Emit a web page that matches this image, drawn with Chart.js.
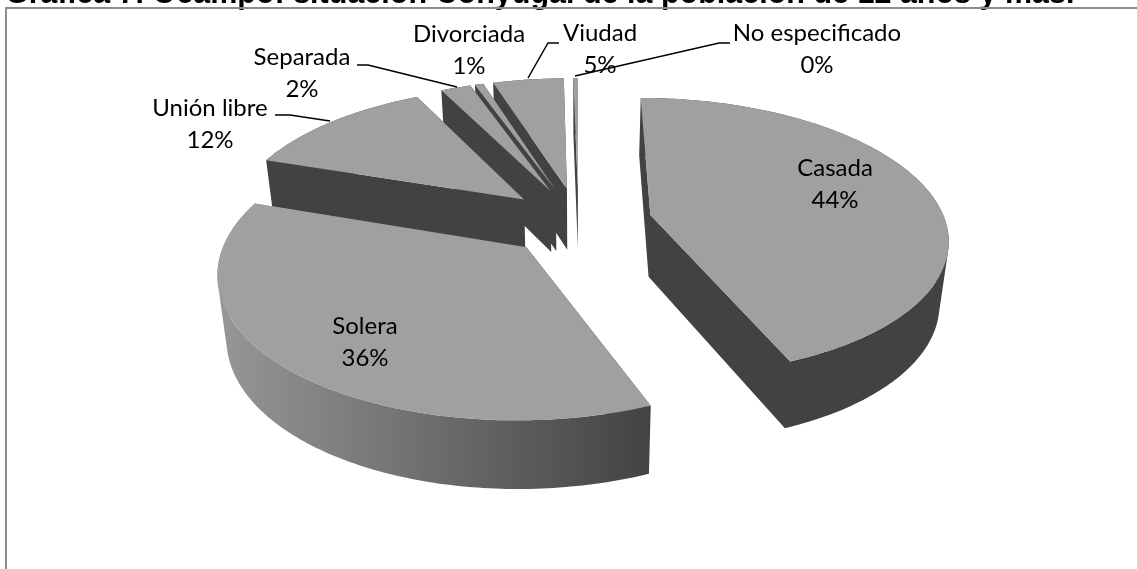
<!DOCTYPE html>
<html><head><meta charset="utf-8">
<script src="https://cdn.jsdelivr.net/npm/chart.js@4/dist/chart.umd.min.js"></script>
<style>html,body{margin:0;padding:0;background:#fff;overflow:hidden}#c{display:block}</style>
</head><body><canvas id="c" width="1137" height="569"></canvas>
<script>
const titleText = 'Gráfica 7. Ocampo: situación Conyugal de la población de 12 años y más.';
const categories = ['Casada','Solera','Unión libre','Separada','Divorciada','Viudad','No especificado'];
const shares = [43.9, 36.2, 12.49, 1.95, 0.55, 4.6, 0.3];
const labelCentres = [[835,168],[365,326],[210,108],[302,57],[469,34],[600,33],[817,33]];
const leaders = [null,null,
  [[275,115],[290,115],[330,121]],
  [[357,65],[368,65],[457,87]],
  null,
  [[559,43],[548,43],[528,78]],
  [[575,76],[719,43],[730,43]]];
const view = {cx:578.5, cy:221.5, rx:295, ry:137.2, persp:0.156, depth:62, shrink:0.975, explode:0.25};
const topColor='#a0a0a0', wallColor='#424242';
const labelFont='24px Lato, "Open Sans", sans-serif';

function proj(wx,wy){const s=1/(1+view.persp*wy);return [view.cx+view.rx*wx*s, view.cy-view.ry*wy*s, s];}
function projB(wx,wy){const p=proj(wx,wy);return [view.cx+(p[0]-view.cx)*view.shrink, p[1]+view.depth*Math.sqrt(p[2])];}
function addPoly(ctx,pts){let area=0;pts.forEach((p,i)=>{const q=pts[(i+1)%pts.length];area+=p[0]*q[1]-q[0]*p[1];});
  const o=area<0?pts.slice().reverse():pts;o.forEach((p,i)=>i?ctx.lineTo(p[0],p[1]):ctx.moveTo(p[0],p[1]));ctx.closePath();}
function poly(ctx,pts,fill){ctx.beginPath();addPoly(ctx,pts);ctx.fillStyle=fill;ctx.fill();}

const pie3d={id:'pie3d',
 beforeDatasetDraw(chart,args){
  const ctx=chart.ctx, els=args.meta.data;
  const order=[6,5,4,3,2,1,0];
  ctx.save();
  order.forEach(i=>{
    const el=els[i];
    const a0=el.startAngle+Math.PI/2, a1=el.endAngle+Math.PI/2, mid=(a0+a1)/2;
    const ox=view.explode*Math.sin(mid), oy=view.explode*Math.cos(mid);
    const n=Math.max(4,Math.ceil((a1-a0)*60));
    const rimW=[];
    for(let k=0;k<=n;k++){const a=a0+(a1-a0)*k/n;rimW.push([ox+Math.sin(a),oy+Math.cos(a)]);}
    const rimT=rimW.map(w=>proj(w[0],w[1])), rimB=rimW.map(w=>projB(w[0],w[1]));
    const apT=proj(ox,oy), apB=projB(ox,oy);
    let wall=wallColor;
    if(i===1){const g=ctx.createLinearGradient(216,0,649,0);g.addColorStop(0,'#979797');g.addColorStop(1,'#434343');wall=g;}
    ctx.beginPath();
    addPoly(ctx,[apT,rimT[0],rimB[0],apB]);
    addPoly(ctx,[apT,rimT[n],rimB[n],apB]);
    for(let k=0;k<n;k++)addPoly(ctx,[rimT[k],rimT[k+1],rimB[k+1],rimB[k]]);
    ctx.fillStyle=wall;ctx.fill();
    poly(ctx,[apT].concat(rimT),topColor);
  });
  ctx.restore();
  return false;
 },
 afterDraw(chart){
  const ctx=chart.ctx, vals=chart.data.datasets[0].data, tot=vals.reduce((a,b)=>a+b,0);
  ctx.save();
  ctx.strokeStyle='#8c8c8c';ctx.lineWidth=2;
  ctx.beginPath();ctx.moveTo(6,569);ctx.lineTo(6,8);ctx.lineTo(1137,8);ctx.stroke();
  ctx.strokeStyle='#000';ctx.lineWidth=1.5;
  leaders.forEach(l=>{if(!l)return;ctx.beginPath();l.forEach((p,i)=>i?ctx.lineTo(p[0],p[1]):ctx.moveTo(p[0],p[1]));ctx.stroke();});
  ctx.fillStyle='#000';ctx.font=labelFont;ctx.textAlign='center';ctx.textBaseline='middle';
  categories.forEach((c,i)=>{const p=labelCentres[i];ctx.fillText(c,p[0],p[1]);ctx.fillText(Math.round(vals[i]/tot*100)+'%',p[0],p[1]+32);});
  ctx.restore();
 }
};
new Chart(document.getElementById('c'),{
 type:'pie',
 data:{labels:categories,datasets:[{data:shares,backgroundColor:topColor,borderWidth:0}]},
 plugins:[pie3d],
 options:{responsive:false,animation:false,
  layout:{padding:{left:5}},
  plugins:{legend:{display:false},tooltip:{enabled:false},
   title:{display:true,text:titleText,align:'start',color:'#000',font:{family:'"Liberation Sans"',size:30.5,weight:'bold'},padding:{top:-24,bottom:0}}}}
});
</script></body></html>
